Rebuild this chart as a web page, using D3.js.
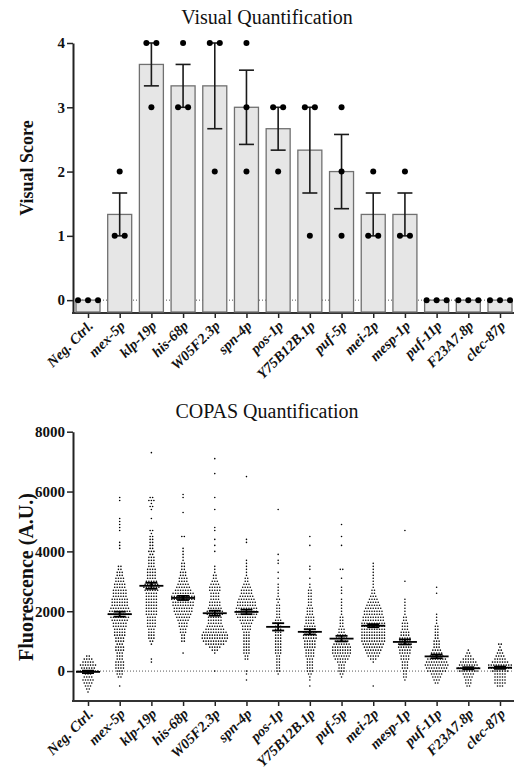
<!DOCTYPE html>
<html>
<head>
<meta charset="utf-8">
<script src="https://cdn.jsdelivr.net/npm/d3@7"></script>
<style>
  body { margin: 0; background: #fff; }
  svg { display: block; font-family: "Liberation Serif", "Times New Roman", serif; }
</style>
</head>
<body>
<div class="chart"></div>
<script>

// categories shared by both panels
var categories = ["Neg. Ctrl.", "mex-5p", "klp-19p", "his-68p", "W05F2.3p", "spn-4p", "pos-1p",
  "Y75B12B.1p", "puf-5p", "mei-2p", "mesp-1p", "puf-11p", "F23A7.8p", "clec-87p"];

// top panel: three visual scores per category
var visualScores = [[0,0,0],[1,1,2],[3,4,4],[3,3,4],[2,4,4],[2,3,4],[2,3,3],
  [1,3,3],[1,2,3],[1,1,2],[1,1,2],[0,0,0],[0,0,0],[0,0,0]];
var visualTicks = [0, 1, 2, 3, 4];

// bottom panel: dots per 100-unit row, starting at copasStart for each category
var copasTicks = [0, 2000, 4000, 6000, 8000];
var copasStep = 100;
var copasStart = [-700, -500, 300, 600, 0, -300, -100, -500, -200, -500, -300, -400, -500, -500];
var copasCounts = [
  [1,2,3,4,5,4,3,9,6,7,5,4,2],
  [1,0,0,2,3,3,4,4,4,3, 3,3,4,4,3,4,4,5,5,5, 6,6,7,8,10,9,8,7,7,7, 6,6,6,5,5,4,4,3,3,2, 2,0,0,0,0,0,1,1,1,0, 0,0,1,1,1,1,1,0,0,0, 0,0,1,1],
  [1,1,0,0,0,0,1,2,3,3, 3,3,4,4,4,4,5,5,5,5, 5,5,5,5,6,7,6,5,4,4, 4,4,3,3,3,3,2,3,2,2, 2,2,2,1,2,0,0,0,1,0, 0,1,2,1,3,2,0,0,0,0, 0,0,0,0,0,0,0,0,0,0, 1],
  [1,0,0,0,2,2,2,3,3,4, 4,5,6,7,8,8,9,9,10,10, 9,7,6,5,4,4,3,3,2,2, 2,1,1,1,1,1,0,0,0,2, 0,0,0,0,0,0,0,1,0,0, 0,0,1,1],
  [1,0,0,0,0,0,1,3,5,8, 10,11,11,10,8,7,6,6,6,7, 7,6,5,5,4,4,4,5,5,4, 3,2,2,1,1,1,0,0,0,0, 1,0,1,0,1,0,0,1,1,0, 0,0,0,0,1,0,0,0,1,0, 0,0,0,0,0,0,1,0,0,0, 0,1],
  [1,0,1,1,0,0,0,2,2,3, 3,3,3,3,3,3,3,4,4,5, 6,8,9,9,9,8,8,7,6,5, 5,4,3,2,2,1,1,1,1,1, 1,0,0,0,0,0,1,1,0,0, 0,0,0,0,0,0,0,0,0,0, 0,0,0,0,0,0,0,0,1],
  [1,2,2,2,2,2,2,3,3,3, 3,3,3,3,3,3,3,3,3,2, 2,2,2,2,1,2,1,1,1,1, 1,0,1,0,1,0,0,1,1,0, 1,0,0,0,0,0,0,0,0,0, 0,0,0,0,0,1],
  [1,0,1,1,2,3,3,3,3,3, 4,4,4,5,5,5,6,6,6,5, 5,4,4,4,3,3,3,2,2,2, 2,2,2,1,1,0,1,0,0,1, 1,0,0,0,0,0,0,1,0,0, 1],
  [1,2,3,3,3,4,6,7,8,8, 8,7,6,5,4,3,3,2,2,2, 2,1,1,1,1,1,1,0,1,1, 1,0,0,1,0,0,2,0,0,0, 0,0,0,0,1,0,0,1,0,0, 0,1],
  [1,0,0,0,0,0,0,0,1,3, 5,6,7,8,9,10,10,10,10,10, 10,10,9,9,8,8,7,6,5,4, 3,2,2,1,1,1,1,1,1,1, 1,1],
  [1,2,2,2,3,3,3,4,4,5, 5,6,6,5,5,4,4,3,3,3, 2,2,1,1,1,1,1,1,0,0, 0,0,0,1,0,0,0,0,0,0, 0,0,0,0,0,0,0,0,0,0, 1],
  [2,3,4,5,8,9,10,9,8,6, 5,4,3,3,3,2,2,2,2,2, 1,1,1,1,0,0,0,0,0,0, 1,0,1],
  [2,3,3,4,5,8,9,8,7,5,3,2,1],
  [3,5,5,5,5,7,10,10,7,5,4,3,2,1,2]
];

var width = 514, height = 773;
var axisLeftX = 73, axisRightX = 514;
var fontFam = '"Liberation Serif", "Times New Roman", serif';

var svg = d3.select(".chart").append("svg")
  .attr("width", width)
  .attr("height", height);

var x = d3.scalePoint().domain(categories).range([88, 500]);

function meanSem(vals) {
  var m = d3.mean(vals);
  var sd = d3.deviation(vals) || 0;
  return { mean: m, sem: sd / Math.sqrt(vals.length) };
}

function drawFrame(y, yTicks, bottomY, title, titleY, yTitle, yTitleY, yTitleSize) {
  // dotted zero line
  svg.append("line")
    .attr("x1", axisLeftX).attr("x2", axisRightX)
    .attr("y1", y(0)).attr("y2", y(0))
    .attr("stroke", "#555").attr("stroke-width", 1)
    .attr("stroke-dasharray", "1,2");

  var yAxis = svg.append("g")
    .attr("transform", "translate(" + axisLeftX + ",0)")
    .call(d3.axisLeft(y).tickValues(yTicks).tickSize(6).tickSizeOuter(0).tickPadding(2).tickFormat(d3.format("d")));
  yAxis.select(".domain").attr("stroke", "#222").attr("stroke-width", 2);
  yAxis.selectAll(".tick line").attr("stroke", "#222").attr("stroke-width", 1.5);
  yAxis.selectAll("text")
    .attr("fill", "#111")
    .style("font-family", fontFam)
    .style("font-size", "15px")
    .style("font-weight", "bold");

  var xAxis = svg.append("g")
    .attr("transform", "translate(0," + bottomY + ")")
    .call(d3.axisBottom(x).tickSize(5).tickSizeOuter(0));
  xAxis.select(".domain").remove();
  xAxis.selectAll(".tick line").attr("stroke", "#222").attr("stroke-width", 1.5);
  xAxis.selectAll("text")
    .attr("x", 0).attr("y", 0).attr("dy", "0.35em")
    .attr("transform", "translate(2,10) rotate(-45)")
    .style("text-anchor", "end")
    .attr("fill", "#111")
    .style("font-family", fontFam)
    .style("font-size", "14.5px")
    .style("font-weight", "bold")
    .style("font-style", "italic");

  svg.append("line")
    .attr("x1", axisLeftX - 1).attr("x2", axisRightX)
    .attr("y1", bottomY).attr("y2", bottomY)
    .attr("stroke", "#333").attr("stroke-width", 2);

  svg.append("text")
    .attr("x", 267).attr("y", titleY)
    .attr("text-anchor", "middle")
    .style("font-size", "20px")
    .attr("fill", "#111")
    .text(title);

  svg.append("text")
    .attr("text-anchor", "middle")
    .attr("transform", "translate(33," + yTitleY + ") rotate(-90)")
    .style("font-size", yTitleSize)
    .style("font-weight", "bold")
    .attr("fill", "#111")
    .text(yTitle);
}

// ---------- top panel ----------
var yVis = d3.scaleLinear().domain([-0.2, 4]).range([313, 43]);
var barW = 24;

drawFrame(yVis, visualTicks, 313, "Visual Quantification", 24, "Visual Score", 168, "18px");

var visStats = visualScores.map(meanSem);

svg.append("g").selectAll("rect")
  .data(categories)
  .enter()
  .append("rect")
  .attr("x", d => x(d) - barW / 2)
  .attr("y", (d, i) => yVis(visStats[i].mean))
  .attr("width", barW)
  .attr("height", (d, i) => yVis(-0.2) - yVis(visStats[i].mean) - 1)
  .attr("fill", "#e6e6e6")
  .attr("stroke", "#707070")
  .attr("stroke-width", 1.3);

var errG = svg.append("g").attr("stroke", "#1a1a1a").attr("stroke-width", 1.6);
categories.forEach(function(c, i) {
  var s = visStats[i];
  if (s.sem <= 0) return;
  var cx = x(c), lo = yVis(s.mean - s.sem), hi = yVis(s.mean + s.sem);
  errG.append("line").attr("x1", cx).attr("x2", cx).attr("y1", lo).attr("y2", hi);
  errG.append("line").attr("x1", cx - 7.5).attr("x2", cx + 7.5).attr("y1", lo).attr("y2", lo);
  errG.append("line").attr("x1", cx - 7.5).attr("x2", cx + 7.5).attr("y1", hi).attr("y2", hi);
});

// dots, side by side when scores tie
var visDots = [];
categories.forEach(function(c, i) {
  var groups = d3.rollup(visualScores[i], v => v.length, v => v);
  groups.forEach(function(n, v) {
    for (var j = 0; j < n; j++) {
      visDots.push({ cat: c, v: v, off: (j - (n - 1) / 2) * 10 });
    }
  });
});
svg.append("g").selectAll("circle")
  .data(visDots)
  .enter()
  .append("circle")
  .attr("cx", d => x(d.cat) + d.off)
  .attr("cy", d => yVis(d.v))
  .attr("r", 3)
  .attr("fill", "#000");

// ---------- bottom panel ----------
var yCop = d3.scaleLinear().domain([-1000, 8000]).range([701, 431.7]);

drawFrame(yCop, copasTicks, 701, "COPAS Quantification", 418, "Fluorescence (A.U.)", 577, "20px");

var copDots = [];
var copStats = [];
categories.forEach(function(c, i) {
  var vals = [];
  copasCounts[i].forEach(function(n, k) {
    var v = copasStart[i] + k * copasStep;
    for (var j = 0; j < n; j++) {
      vals.push(v);
      copDots.push({ cat: c, v: v, off: (j - (n - 1) / 2) * 2.5 });
    }
  });
  copStats.push(meanSem(vals));
});

svg.append("g").selectAll("circle")
  .data(copDots)
  .enter()
  .append("circle")
  .attr("cx", d => x(d.cat) + d.off)
  .attr("cy", d => yCop(d.v))
  .attr("r", 0.8)
  .attr("fill", "#000");

var meanG = svg.append("g").attr("stroke", "#000").attr("stroke-width", 1.8);
categories.forEach(function(c, i) {
  var s = copStats[i];
  var cx = x(c), m = yCop(s.mean), lo = yCop(s.mean - s.sem), hi = yCop(s.mean + s.sem);
  meanG.append("line").attr("x1", cx - 12).attr("x2", cx + 12).attr("y1", m).attr("y2", m);
  meanG.append("line").attr("x1", cx).attr("x2", cx).attr("y1", lo).attr("y2", hi);
  meanG.append("line").attr("x1", cx - 6).attr("x2", cx + 6).attr("y1", lo).attr("y2", lo);
  meanG.append("line").attr("x1", cx - 6).attr("x2", cx + 6).attr("y1", hi).attr("y2", hi);
});

</script>
</body>
</html>
